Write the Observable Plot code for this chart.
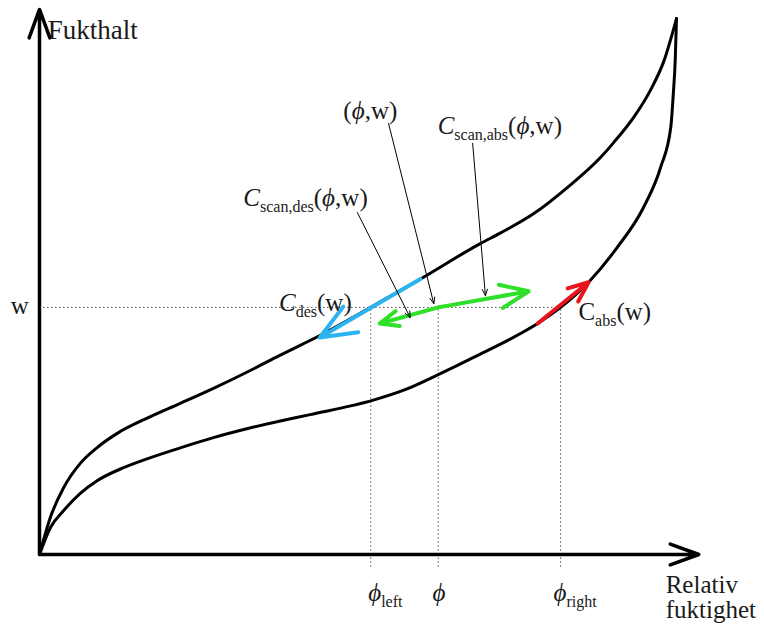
<!DOCTYPE html>
<html><head><meta charset="utf-8">
<script src="https://cdn.jsdelivr.net/npm/d3@7"></script>
<script src="https://cdn.jsdelivr.net/npm/@observablehq/plot@0.6"></script>
<style>body{margin:0;background:#fff}</style>
</head><body><div id="chart"></div>
<script>
// Desorption (upper) curve: relative humidity (%) vs moisture content (% of max)
const desRH = [0, 1.7, 3.8, 6.4, 9.1, 12.2, 17.0, 22.1, 27.3, 32.7, 37.8, 44.1, 52.0, 59.8, 69.2, 72.4, 77.6, 82.9, 88.1, 90.1, 93.3, 95.9, 98.0, 100];
const desW  = [0, 6.9, 12.5, 17.0, 20.0, 22.6, 25.5, 28.2, 31.0, 34.1, 37.2, 40.9, 46.1, 51.4, 58.0, 60.0, 63.6, 68.5, 74.1, 76.8, 81.6, 86.6, 92.0, 100];
// Absorption (lower) curve
const absRH = [0, 1.7, 3.8, 6.4, 9.1, 13.2, 17.0, 22.1, 27.3, 32.7, 37.8, 42.5, 52.4, 57.5, 62.5, 69.2, 74.4, 78.2, 81.8, 86.2, 90.7, 94.8, 97.5, 99.1, 99.5, 99.8, 100];
const absW  = [0, 5.0, 8.2, 11.4, 13.8, 16.2, 17.9, 19.9, 21.8, 23.5, 24.9, 26.1, 28.8, 30.8, 33.5, 37.4, 40.5, 43.1, 46.1, 50.8, 57.3, 64.7, 72.2, 79.7, 86.0, 92.2, 100];

// State point and scanning limits
const wLevel = 46.1;
const phiLeft = 52.0, phiState = 62.6, phiRight = 81.8;
const dottedBottom = -2.4;

// Axis extents (with arrow tips)
const xAxisEnd = 103.5, yAxisEnd = 101.7;

// Coloured slope arrows [x1, y1, x2, y2]
const blueArrow  = [[59.8, 51.4, 44.0, 40.5]];
const greenArrows = [[phiState, wLevel, 53.4, 43.1], [phiState, wLevel, 76.8, 49.1]];
const redArrow   = [[78.2, 43.1, 86.2, 50.8]];

// Annotation pointer arrows [x1, y1, x2, y2]
const pointers = [[54.8, 80.4, 61.9, 46.8], [68.0, 76.7, 70.0, 48.3], [49.9, 63.8, 58.2, 44.2]];

// Labels
const labelText = ["(<i>ϕ</i>,w)", "<i>C</i><sub>scan,abs</sub>(<i>ϕ</i>,w)", "<i>C</i><sub>scan,des</sub>(<i>ϕ</i>,w)", "<i>C</i><sub>des</sub>(w)", "C<sub>abs</sub>(w)"];
const labelX = [47.7, 62.5, 32.0, 37.6, 84.6];
const labelY = [81.3, 78.5, 65.1, 45.5, 43.8];

const phiText = ["<i>ϕ</i><sub>left</sub>", "<i>ϕ</i>", "<i>ϕ</i><sub>right</sub>"];
const phiTextX = [51.6, 61.7, 80.7];
const phiTextY = -8.6;

const yTitle = "Fukthalt", xTitle = "Relativ\nfuktighet", wText = "w";

const des = desRH.map((x, i) => ({x, y: desW[i]}));
const abs = absRH.map((x, i) => ({x, y: absW[i]}));
const arr = a => a.map(([x1, y1, x2, y2]) => ({x1, y1, x2, y2}));
const labels = labelText.map((t, i) => ({t, x: labelX[i], y: labelY[i]}));
const phiLabels = phiText.map((t, i) => ({t, x: phiTextX[i], y: phiTextY}));

const ink = "#1a1a1a";
const chart = Plot.plot({
  width: 764, height: 628, margin: 0,
  x: {domain: [0, 100], range: [39, 676], axis: null},
  y: {domain: [0, 100], range: [554, 18], axis: null},
  style: {fontFamily: '"Liberation Serif", "Times New Roman", serif', background: "white", color: ink},
  marks: [
    Plot.ruleY([wLevel], {x1: 0, x2: phiRight, stroke: "#555", strokeWidth: 1, strokeDasharray: "1.5,2.5"}),
    Plot.ruleX([phiLeft, phiState, phiRight], {y1: dottedBottom, y2: wLevel, stroke: "#555", strokeWidth: 1, strokeDasharray: "1.5,2.5"}),
    Plot.line(des, {x: "x", y: "y", stroke: "black", strokeWidth: 3, curve: "monotone-x"}),
    Plot.line(abs, {x: "x", y: "y", stroke: "black", strokeWidth: 3, curve: "monotone-x"}),
    Plot.arrow(arr(blueArrow), {x1: "x1", y1: "y1", x2: "x2", y2: "y2", stroke: "#2bb3ef", strokeWidth: 4, headLength: 15, headAngle: 45}),
    Plot.arrow(arr(greenArrows), {x1: "x1", y1: "y1", x2: "x2", y2: "y2", stroke: "#2fe02a", strokeWidth: 4, headLength: 15, headAngle: 45}),
    Plot.arrow(arr(redArrow), {x1: "x1", y1: "y1", x2: "x2", y2: "y2", stroke: "#e8141b", strokeWidth: 4, headLength: 15, headAngle: 45}),
    Plot.arrow(arr(pointers), {x1: "x1", y1: "y1", x2: "x2", y2: "y2", stroke: "black", strokeWidth: 1, headLength: 10, headAngle: 45}),
    Plot.arrow([{x1: 0, y1: 0, x2: 0, y2: yAxisEnd}, {x1: 0, y1: 0, x2: xAxisEnd, y2: 0}], {x1: "x1", y1: "y1", x2: "x2", y2: "y2", stroke: "black", strokeWidth: 3.5, headLength: 13, headAngle: 40}),
    Plot.text(labels, {x: "x", y: "y", text: "t", textAnchor: "start", lineAnchor: "bottom", fontSize: 25, fill: ink}),
    Plot.text(phiLabels, {x: "x", y: "y", text: "t", textAnchor: "start", lineAnchor: "bottom", fontSize: 25, fill: ink}),
    Plot.text([yTitle], {x: 1.3, y: 96.1, text: d => d, textAnchor: "start", lineAnchor: "bottom", fontSize: 27, fill: ink}),
    Plot.text([xTitle], {x: 98.3, y: -11.9, text: d => d, textAnchor: "start", lineAnchor: "bottom", fontSize: 25, lineHeight: 1.0, fill: ink}),
    Plot.text([wText], {x: -3.1, y: 44.8, text: d => d, textAnchor: "middle", lineAnchor: "bottom", fontSize: 25, fill: ink})
  ]
});

// Turn simple <i>/<sub> markup in label strings into SVG tspans
chart.querySelectorAll("text").forEach(t => {
  const s = t.textContent;
  if (!s.includes("<")) return;
  while (t.firstChild) t.removeChild(t.firstChild);
  const re = /<(i|sub)>(.*?)<\/\1>|([^<]+)/g;
  let m, shifted = false;
  while ((m = re.exec(s))) {
    const ts = document.createElementNS("http://www.w3.org/2000/svg", "tspan");
    if (m[1] === "sub") {
      ts.textContent = m[2];
      ts.setAttribute("font-size", "16");
      ts.setAttribute("dy", "6");
      shifted = true;
    } else {
      ts.textContent = m[1] === "i" ? m[2] : m[3];
      if (m[1] === "i") ts.setAttribute("font-style", "italic");
      if (shifted) { ts.setAttribute("dy", "-6"); shifted = false; }
    }
    t.appendChild(ts);
  }
});
document.getElementById("chart").appendChild(chart);
</script>
</body></html>
